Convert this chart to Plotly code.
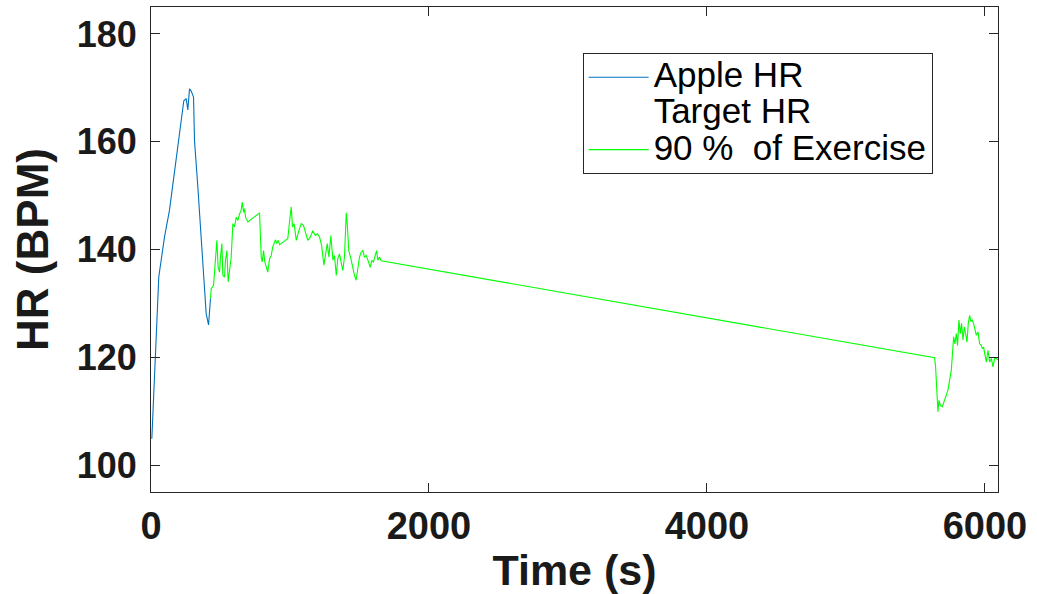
import plotly.graph_objects as go

# ---- data ----
apple_t = [6, 13, 25, 32, 42, 56, 73, 97, 133, 169, 205, 236, 253, 265, 277, 289,
           306, 313, 337, 361, 378, 385, 397, 414, 421, 428]
apple_hr = [104.9, 109.3, 114.5, 121.9, 126.9, 134.9, 138, 142.3, 147.3, 154.7,
            161.5, 167.6, 168, 165.9, 169.8, 169.4, 168.3, 160.2, 151.6, 142.9,
            135.5, 133, 128.1, 126, 129.3, 130.9]

ex_t = [428, 433, 450, 464, 474, 483, 493, 500, 510, 517,
        529, 536, 546, 555, 565, 577, 589, 601, 613, 625,
        637, 649, 656, 667, 673, 680, 697, 781, 793, 800,
        810, 819, 840, 853, 865, 876, 896, 905, 915, 925,
        984, 992, 999, 1009, 1018, 1030, 1045, 1064, 1081, 1097,
        1112, 1128, 1146, 1164, 1182, 1198, 1213, 1227, 1244, 1256,
        1268, 1280, 1294, 1309, 1320, 1333, 1344, 1356, 1369, 1380,
        1392, 1405, 1412, 1423, 1438, 1452, 1464, 1476, 1488, 1500,
        1512, 1524, 1536, 1548, 1565, 1577, 1589, 1601, 1613, 1623,
        1632, 1644, 1656,
        5638, 5645, 5655, 5662, 5669, 5679, 5693, 5710, 5734, 5758,
        5765, 5775, 5784, 5794, 5803, 5813, 5823, 5832, 5842, 5852,
        5861, 5871, 5880, 5890, 5899, 5909, 5918, 5928, 5938, 5950,
        5962, 5974, 5981, 5990, 6000, 6010, 6022, 6034, 6046, 6058,
        6070, 6082, 6094]
ex_hr = [130.9, 132.7, 133.4, 138.3, 141.7, 136.7, 135.8, 138.6, 141.1, 135.2,
         134.9, 138, 139.8, 134, 136.7, 138.6, 144.8, 144.2, 146, 145.4,
         146.6, 147.3, 148.8, 146.9, 147.6, 146, 145.1, 146.8, 138.6, 137.7,
         139.8, 137.7, 135.8, 138.3, 138.9, 140.5, 141.8, 141.1, 141.7, 140.9,
         142, 143.5, 145.7, 147.9, 144.2, 144.8, 141.7, 143.5, 144.8, 144.5,
         142.9, 141.7, 142.3, 143.5, 142.6, 142.9, 142.3, 140.8, 137.1, 139.5,
         141.1, 138.6, 142.6, 138, 138.9, 135.2, 138.3, 139.2, 137.1, 136.1,
         138.6, 146.8, 144.8, 139.8, 138.3, 136.4, 135.2, 134.3, 136.7, 138.6,
         139.5, 139.8, 138.6, 138.9, 137.7, 136.7, 138, 137.7, 138.9, 139.8,
         138, 138.6, 137.9,
         119.9, 118.2, 112.7, 109.9, 112, 111.1, 110.8, 112, 113.9, 117.6,
         120.7, 123.8, 122.5, 124.4, 122.2, 126.9, 124.4, 126.3, 123.2, 125.6,
         124.4, 122.8, 126.3, 127.8, 126.6, 126.9, 126.3, 125, 124.1, 124.7,
         122.5, 122.2, 121.6, 121.9, 120.7, 119.1, 121.3, 119.1, 119.8, 118.2,
         119.8, 119.8, 119.5]

x_ticks = [0, 2000, 4000, 6000]
y_ticks = [100, 120, 140, 160, 180]
series_names = ["Apple HR", "Target HR", "90 %  of Exercise"]

FONT = "Liberation Sans, Arial, Helvetica, sans-serif"
AX = "#262626"
TXT = "#1a1a1a"


def legend_label(s):
    return '<span style="font-size:35px">' + s + '</span>'


fig = go.Figure()
fig.add_trace(go.Scatter(x=apple_t, y=apple_hr, mode="lines", name=legend_label(series_names[0]),
                         line=dict(color="#0072BD", width=1.1)))
fig.add_trace(go.Scatter(x=[None], y=[None], mode="lines", name=legend_label(series_names[1]),
                         line=dict(color="rgba(0,0,0,0)", width=1.1)))
fig.add_trace(go.Scatter(x=ex_t, y=ex_hr, mode="lines", name=legend_label(series_names[2]),
                         line=dict(color="#00FF00", width=1.1)))

axis_common = dict(
    showgrid=False, zeroline=False, showline=True, linecolor=AX, linewidth=1,
    mirror="allticks", ticks="inside", ticklen=9, tickcolor=AX, tickwidth=1,
)

fig.update_layout(
    width=1037, height=594,
    margin=dict(l=151, r=39, t=7, b=102),
    paper_bgcolor="white", plot_bgcolor="white",
    xaxis=dict(range=[0, 6094], tickvals=x_ticks,
               tickfont=dict(family=FONT, size=38, color=TXT, weight="bold"),
               title=dict(text="Time (s)", standoff=10,
                          font=dict(family=FONT, size=43, color=TXT, weight="bold")),
               **axis_common),
    yaxis=dict(range=[95, 185], tickvals=y_ticks, ticklabelstandoff=6,
               tickfont=dict(family=FONT, size=36, color=TXT, weight="bold"),
               title=dict(text="HR (BPM)", standoff=14,
                          font=dict(family=FONT, size=44, color=TXT, weight="bold")),
               **axis_common),
    legend=dict(x=0.5096, y=0.9047, xanchor="left", yanchor="top",
                bgcolor="white", bordercolor=AX, borderwidth=1,
                font=dict(family=FONT, size=25.5, color="black"),
                itemwidth=60, tracegroupgap=0),
    showlegend=True,
)

fig.write_html("out.html", config={"displayModeBar": False},
               post_script="document.body.style.margin='0';")
